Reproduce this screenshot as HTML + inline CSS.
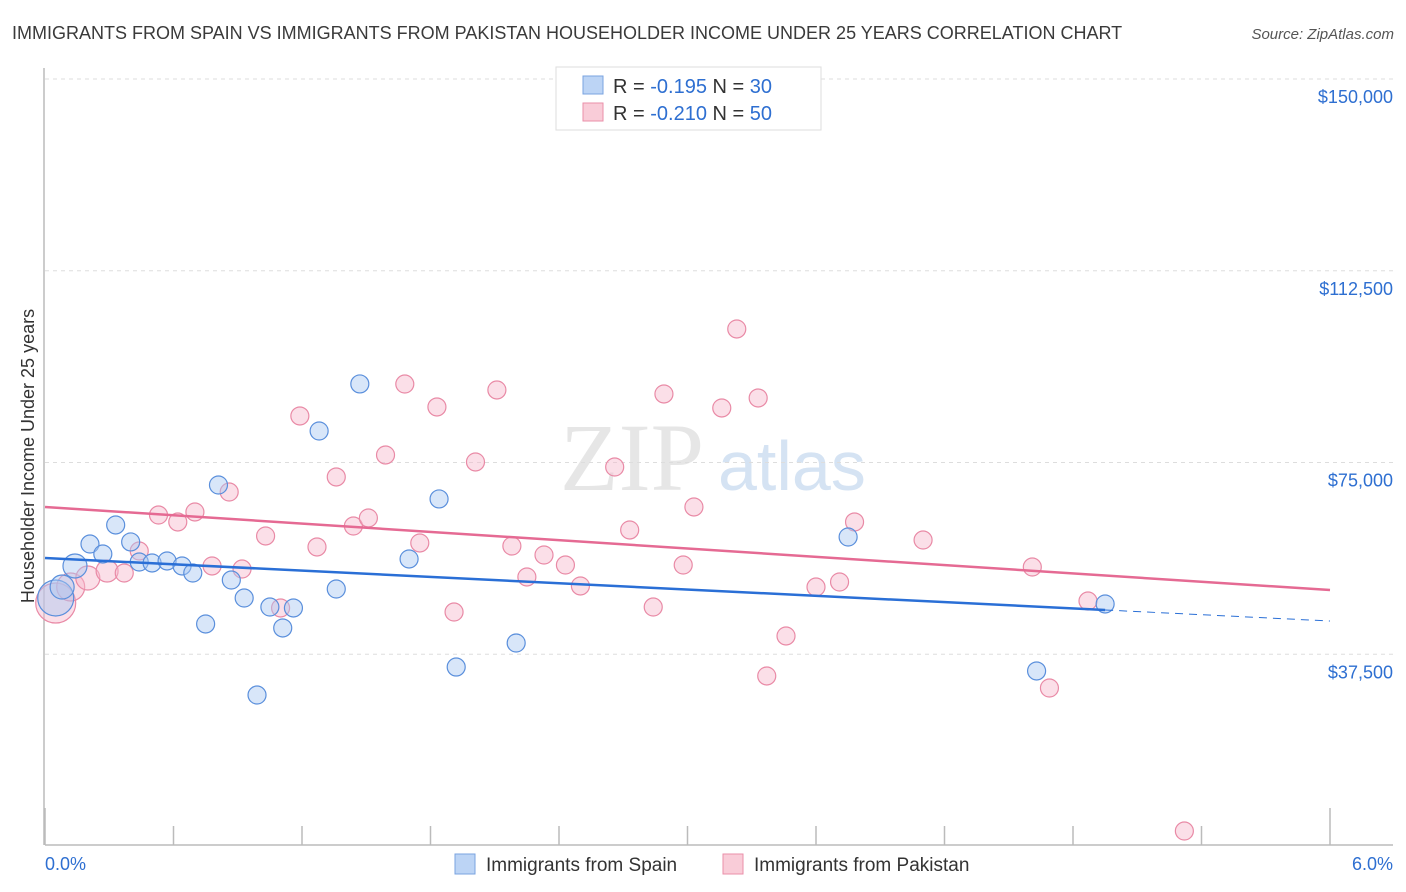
<!DOCTYPE html>
<html><head><meta charset="utf-8"><style>
body{margin:0;background:#fff;font-family:"Liberation Sans",sans-serif;}
#wrap{position:relative;width:1406px;height:892px;overflow:hidden;}
</style></head><body><div id="wrap">
<svg id="chart" width="1406" height="892" xmlns="http://www.w3.org/2000/svg">
<text x="12" y="39" font-size="18" fill="#3a3a3a">IMMIGRANTS FROM SPAIN VS IMMIGRANTS FROM PAKISTAN HOUSEHOLDER INCOME UNDER 25 YEARS CORRELATION CHART</text>
<text x="1394" y="39" font-size="15" fill="#555" font-style="italic" text-anchor="end">Source: ZipAtlas.com</text>
<text x="560" y="490" font-size="96" fill="#e6e6e6" font-family="Liberation Serif,serif">ZIP</text>
<text x="718" y="490" font-size="70" fill="#d5e3f3">atlas</text>
<text transform="translate(34,456) rotate(-90)" font-size="18" fill="#333" text-anchor="middle">Householder Income Under 25 years</text>
<g id="grid"></g><g id="pts"></g><g id="trend"></g>
<g>
<rect x="556" y="67" width="265" height="63" fill="#fff" stroke="#ddd"/>
<rect x="583" y="76" width="20" height="18" fill="#bcd4f5" stroke="#7aa3e0"/>
<rect x="583" y="103" width="20" height="18" fill="#f9ccd8" stroke="#ea8fa9"/>
<text x="613" y="93" font-size="20" fill="#333">R = <tspan fill="#2e6fd1">-0.195</tspan>   N = <tspan fill="#2e6fd1">30</tspan></text>
<text x="613" y="120" font-size="20" fill="#333">R = <tspan fill="#2e6fd1">-0.210</tspan>   N = <tspan fill="#2e6fd1">50</tspan></text>
</g>
<text x="45" y="870" font-size="18" fill="#2e6fd1">0.0%</text>
<text x="1393" y="870" font-size="18" fill="#2e6fd1" text-anchor="end">6.0%</text>
<g>
<rect x="455" y="854" width="20" height="20" fill="#bcd4f5" stroke="#7aa3e0"/>
<text x="486" y="871" font-size="19" fill="#333">Immigrants from Spain</text>
<rect x="723" y="854" width="20" height="20" fill="#f9ccd8" stroke="#ea8fa9"/>
<text x="754" y="871" font-size="19" fill="#333">Immigrants from Pakistan</text>
</g>
</svg>
<script>
const yTicks=[37500,75000,112500,150000];
const yTickLabels=["$37,500","$75,000","$112,500","$150,000"];
const xTicks=[0,0.6,1.2,1.8,2.4,3.0,3.6,4.2,4.8,5.4,6.0];
const spainX=[0.05,0.08,0.14,0.21,0.27,0.33,0.40,0.44,0.50,0.57,0.64,0.69,0.75,0.81,0.87,0.93,0.99,1.05,1.11,1.16,1.28,1.36,1.47,1.70,1.84,1.92,2.20,3.75,4.63,4.95];
const spainY=[48500,50650,54760,59060,57110,62780,59460,55540,55350,55740,54760,53390,43420,70600,52020,48500,29530,46740,42640,46550,81160,50260,90360,56130,67870,35000,39700,60430,34230,47330];
const spainR=[18,12,12,9,9,9,9,9,9,9,9,9,9,9,9,9,9,9,9,9,9,9,9,9,9,9,9,9,9,9];
const pakX=[0.05,0.12,0.20,0.29,0.37,0.44,0.53,0.62,0.70,0.78,0.86,0.92,1.03,1.10,1.19,1.27,1.36,1.44,1.51,1.59,1.68,1.75,1.83,1.91,2.01,2.11,2.18,2.25,2.33,2.43,2.50,2.66,2.73,2.84,2.89,2.98,3.03,3.16,3.23,3.33,3.37,3.46,3.60,3.71,3.78,4.10,4.61,4.69,4.87,5.32];
const pakY=[47520,50650,52410,53780,53390,57690,64730,63370,65320,54760,69230,54170,60630,46550,84100,58480,72170,62580,64150,76470,90350,59260,85860,45760,75100,89180,58670,52610,56910,54950,50850,74120,61800,46740,88400,54950,66300,85660,101110,87620,33250,41070,50650,51630,63370,59840,54560,30900,47910,2930];
const pakR=[20,14,12,11,9,9,9,9,9,9,9,9,9,9,9,9,9,9,9,9,9,9,9,9,9,9,9,9,9,9,9,9,9,9,9,9,9,9,9,9,9,9,9,9,9,9,9,9,9,9];
const spainTrend=[56320,44000];
const spainSolidEnd=4.95;
const pakTrend=[66300,50060];
const X0=45,X1=1330,YB=846,YT=79;
const xs=v=>X0+v/6*(X1-X0);
const ys=v=>YB-v/150000*(YB-YT);
const NS="http://www.w3.org/2000/svg";
function mk(t,a,p){const e=document.createElementNS(NS,t);for(const k in a)e.setAttribute(k,a[k]);p.appendChild(e);return e;}
const grid=document.getElementById('grid'),pts=document.getElementById('pts'),tr=document.getElementById('trend'),svg=document.getElementById('chart');
yTicks.forEach((t,i)=>{
 const l=mk('line',{x1:45,x2:1393,y1:ys(t),y2:ys(t),stroke:'#ddd','stroke-dasharray':'4,4'},grid);
 
 
 const tx=mk('text',{x:1393,y:ys(t)+24,'font-size':18,fill:'#2e6fd1','text-anchor':'end'},svg);
 tx.textContent=yTickLabels[i];
 
 
});
const ax=mk('line',{x1:45,x2:1393,y1:845,y2:845,stroke:'#bbb','stroke-width':1.5},grid);


const ay=mk('line',{x1:44,x2:44,y1:68,y2:845,stroke:'#bbb','stroke-width':1.5},grid);


xTicks.forEach((t,i)=>{
 const l=mk('line',{x1:xs(t),x2:xs(t),y1:(i==0||i==xTicks.length-1)?808:826,y2:845,stroke:'#bbb','stroke-width':1.5},grid);
 
 
});
function dots(X,Y,R,fill,stroke,name){
 X.forEach((x,i)=>{
  const c=mk('circle',{cx:xs(x),cy:ys(Y[i]),r:R[i],fill:fill,'fill-opacity':0.45,stroke:stroke,'stroke-width':1.2},pts);
  
  
 });
}
dots(pakX,pakY,pakR,'#f7b9cb','#e98aa6','pakistan-point');
dots(spainX,spainY,spainR,'#a9c8f2','#5a8fdc','spain-point');
const sy=x=>spainTrend[0]+(spainTrend[1]-spainTrend[0])*x/6;
const l1=mk('line',{x1:xs(0),y1:ys(sy(0)),x2:xs(spainSolidEnd),y2:ys(sy(spainSolidEnd)),stroke:'#2a6fd6','stroke-width':2.5},tr);


const l2=mk('line',{x1:xs(spainSolidEnd),y1:ys(sy(spainSolidEnd)),x2:xs(6),y2:ys(sy(6)),stroke:'#2a6fd6','stroke-width':1,'stroke-dasharray':'8,6'},tr);


const l3=mk('line',{x1:xs(0),y1:ys(pakTrend[0]),x2:xs(6),y2:ys(pakTrend[1]),stroke:'#e56a93','stroke-width':2.5},tr);


</script></div></body></html>
